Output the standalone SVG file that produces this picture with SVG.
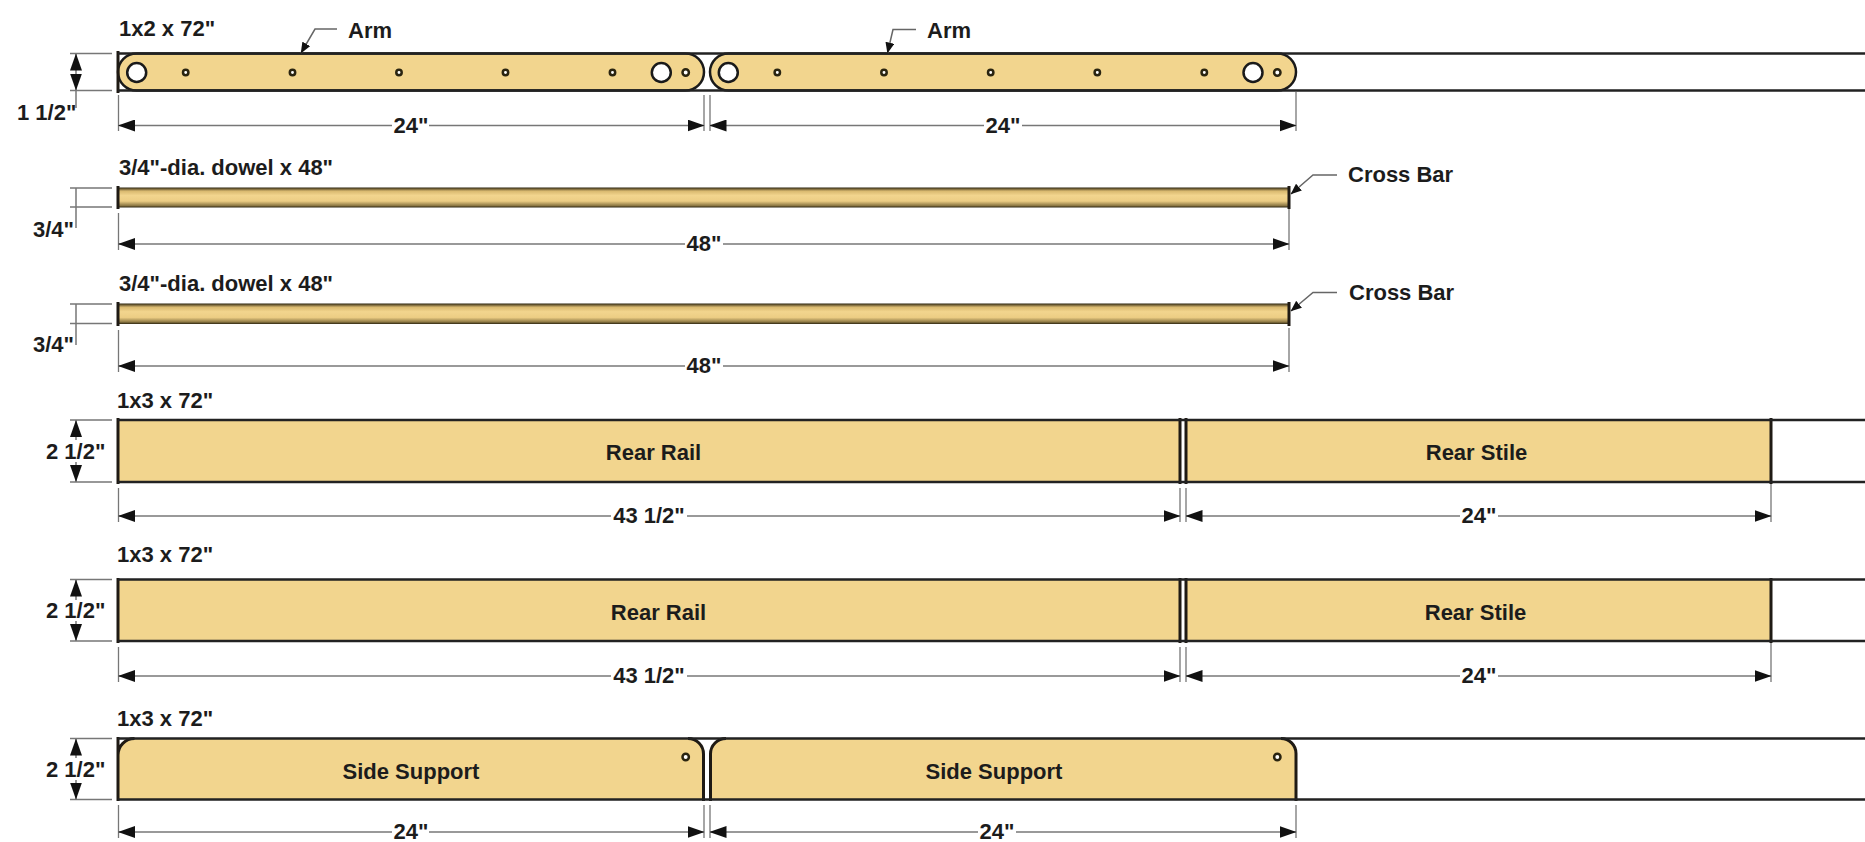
<svg xmlns="http://www.w3.org/2000/svg" width="1865" height="842" viewBox="0 0 1865 842">
<style>
text{font-family:"Liberation Sans",Arial,sans-serif;font-weight:bold;font-size:22px;fill:#1c1c1c}
.wood{fill:#f2d58e;stroke:#1a1a1a;stroke-width:2.5}
.flat{fill:#f2d58e;stroke:none}
.edge{stroke:#1f1a14;stroke-width:3;fill:none}
.stock{stroke:#222;stroke-width:2.5;fill:none}
.big{fill:#fff;stroke:#1a1a1a;stroke-width:2.5}
.small{fill:#fff;stroke:#2a2410;stroke-width:2.5}
.ext{stroke:#777;stroke-width:1.3;fill:none}
.dim{stroke:#777;stroke-width:1.5;fill:none}
.dima{stroke:#777;stroke-width:1.5;fill:none;marker-end:url(#a)}
.lead{stroke:#666;stroke-width:1.5;fill:none;marker-end:url(#l)}
</style>
<defs>
<marker id="a" markerUnits="userSpaceOnUse" markerWidth="17" markerHeight="12" refX="16.5" refY="6" orient="auto"><path d="M0 0L17 6L0 12Z" fill="#111"/></marker>
<marker id="l" markerUnits="userSpaceOnUse" markerWidth="11" markerHeight="9" refX="10.5" refY="4.5" orient="auto"><path d="M0 0L11 4.5L0 9Z" fill="#111"/></marker>
<linearGradient id="dowel" x1="0" y1="0" x2="0" y2="1"><stop offset="0" stop-color="#2d2510"/><stop offset=".18" stop-color="#d9b96f"/><stop offset=".4" stop-color="#f2d58e"/><stop offset=".68" stop-color="#eccd84"/><stop offset=".9" stop-color="#8f7a45"/><stop offset="1" stop-color="#2d2510"/></linearGradient>
</defs>
<rect width="1865" height="842" fill="#fff"/>

<g id="arm-1">
<rect class="wood" x="118" y="53.5" width="586" height="37" rx="18.5"/>
<path class="edge" d="M118 51V93"/>
<circle class="big" cx="136.700" cy="72.500" r="9.500"/>
<circle class="small" cx="185.700" cy="72.500" r="2.700"/><circle class="small" cx="292.500" cy="72.500" r="2.700"/><circle class="small" cx="399" cy="72.500" r="2.700"/><circle class="small" cx="505.500" cy="72.500" r="2.700"/><circle class="small" cx="612.500" cy="72.500" r="2.700"/>
<circle class="big" cx="661.300" cy="72.500" r="9.500"/><circle class="small" cx="685.700" cy="72.500" r="3.200"/>
<text x="348" y="37.500">Arm</text>
</g>
<g id="arm-2">
<rect class="wood" x="710" y="53.5" width="586" height="37" rx="18.5"/>
<circle class="big" cx="728.300" cy="72.500" r="9.500"/>
<circle class="small" cx="777.300" cy="72.500" r="2.700"/><circle class="small" cx="884" cy="72.500" r="2.700"/><circle class="small" cx="990.700" cy="72.500" r="2.700"/><circle class="small" cx="1097.300" cy="72.500" r="2.700"/><circle class="small" cx="1204.300" cy="72.500" r="2.700"/>
<circle class="big" cx="1253" cy="72.500" r="9.500"/><circle class="small" cx="1277.300" cy="72.500" r="3.200"/>
<text x="927" y="37.500">Arm</text>
</g>

<g id="dowel-1">
<rect x="118" y="187.500" width="1171" height="20" fill="url(#dowel)"/>
<path class="edge" d="M118 186V209M1289 186V209"/>
</g>
<g id="dowel-2">
<rect x="118" y="303.500" width="1171" height="20.500" fill="url(#dowel)"/>
<path class="edge" d="M118 302V326M1289 302V326"/>
</g>

<g id="rear-rail-1">
<rect class="flat" x="118" y="420" width="1062" height="62"/>
<path class="edge" d="M118 418V484M1180 418V484"/>
<text x="653.500" y="460" text-anchor="middle">Rear Rail</text>
</g>
<g id="rear-stile-1">
<rect class="flat" x="1186" y="420" width="585" height="62"/>
<path class="edge" d="M1186 418V484M1771 418V484"/>
<text x="1476.500" y="460" text-anchor="middle">Rear Stile</text>
</g>
<g id="rear-rail-2">
<rect class="flat" x="118" y="579.500" width="1062" height="61.500"/>
<path class="edge" d="M118 578V643M1180 578V643"/>
<text x="658.500" y="620" text-anchor="middle">Rear Rail</text>
</g>
<g id="rear-stile-2">
<rect class="flat" x="1186" y="579.500" width="585" height="61.500"/>
<path class="edge" d="M1186 578V643M1771 578V643"/>
<text x="1475.500" y="620" text-anchor="middle">Rear Stile</text>
</g>
<g id="side-support-1">
<path class="flat" d="M118 799.500V755A16.500 16.500 0 0 1 134.500 738.500H688A15.500 15.500 0 0 1 703.500 754V799.500Z"/>
<path class="edge" d="M118 737V801M118 755A16.500 16.500 0 0 1 134.500 738.500M688 738.500A15.500 15.500 0 0 1 703.500 754V801"/>
<circle class="small" cx="685.700" cy="757" r="3.200"/>
<text x="411" y="778.500" text-anchor="middle">Side Support</text>
</g>
<g id="side-support-2">
<path class="flat" d="M710.500 799.500V754A15.500 15.500 0 0 1 726 738.500H1281A15 15 0 0 1 1296 753.500V799.500Z"/>
<path class="edge" d="M710.500 801V754A15.500 15.500 0 0 1 726 738.500M1281 738.500A15 15 0 0 1 1296 753.500V801"/>
<circle class="small" cx="1277.300" cy="757" r="3.200"/>
<text x="994" y="778.500" text-anchor="middle">Side Support</text>
</g>

<g id="stock-lines">
<path class="stock" d="M118 53.500H1865M118 90.500H1865"/>
<path class="stock" d="M118 420H1865M118 482H1865"/>
<path class="stock" d="M118 579.500H1865M118 641H1865"/>
<path class="stock" d="M118 738.500H1865M118 799.500H1865"/>
</g>

<g id="stock-labels">
<text x="119" y="36">1x2 x 72"</text>
<text x="119" y="174.500">3/4"-dia. dowel x 48"</text>
<text x="119" y="290.500">3/4"-dia. dowel x 48"</text>
<text x="117" y="408">1x3 x 72"</text>
<text x="117" y="562">1x3 x 72"</text>
<text x="117" y="726">1x3 x 72"</text>
<text x="1348" y="182">Cross Bar</text>
<text x="1349" y="300">Cross Bar</text>
</g>

<g id="dimension-labels">
<text x="17" y="120">1 1/2"</text>
<text x="33" y="236.500">3/4"</text>
<text x="33" y="352">3/4"</text>
<text x="46" y="459">2 1/2"</text>
<text x="46" y="618">2 1/2"</text>
<text x="46" y="777">2 1/2"</text>
<text x="411" y="133" text-anchor="middle">24"</text>
<text x="1003" y="133" text-anchor="middle">24"</text>
<text x="704" y="251" text-anchor="middle">48"</text>
<text x="704" y="373" text-anchor="middle">48"</text>
<text x="649" y="523" text-anchor="middle">43 1/2"</text>
<text x="1479" y="523" text-anchor="middle">24"</text>
<text x="649" y="683" text-anchor="middle">43 1/2"</text>
<text x="1479" y="683" text-anchor="middle">24"</text>
<text x="411" y="839" text-anchor="middle">24"</text>
<text x="997" y="839" text-anchor="middle">24"</text>
</g>

<g id="connectors">
<path class="lead" d="M337 29H315L301 53"/>
<path class="lead" d="M916 29.500H893L887.500 53"/>
<path class="lead" d="M1337 175H1313L1291 194"/>
<path class="lead" d="M1337 292.500H1313L1291 311"/>

<path class="ext" d="M70 53.500H112M70 90.500H112M70 188H112M70 207H112M70 304H112M70 323.500H112M70 420H112M70 482H112M70 579.500H112M70 641H112M70 738.500H112M70 799.500H112"/>
<path class="dima" d="M76 72V54"/><path class="dima" d="M76 72V90"/>
<path class="dim" d="M76 90V108M76 188V228M76 304V345"/>
<path class="dima" d="M76 440V420.500"/><path class="dima" d="M76 462V481.500"/>
<path class="dima" d="M76 600V580"/><path class="dima" d="M76 621V640.500"/>
<path class="dima" d="M76 758V739"/><path class="dima" d="M76 780V799"/>

<path class="ext" d="M118.500 95V131M704 95V131M710 95V131M1296 92V131"/>
<path class="dima" d="M392 125.500H118.500"/><path class="dima" d="M429 125.500H704"/>
<path class="dima" d="M984 125.500H710"/><path class="dima" d="M1022 125.500H1296"/>

<path class="ext" d="M118.500 213V250M1289 209V250"/>
<path class="dima" d="M685 244H118.500"/><path class="dima" d="M723 244H1289"/>
<path class="ext" d="M118.500 330V372M1289 328V372"/>
<path class="dima" d="M685 366H118.500"/><path class="dima" d="M723 366H1289"/>

<path class="ext" d="M118.500 488V522M1180 488V522M1186 488V522M1771 484V522"/>
<path class="dima" d="M611 516H118.500"/><path class="dima" d="M687 516H1180"/>
<path class="dima" d="M1460 516H1186"/><path class="dima" d="M1498 516H1771"/>
<path class="ext" d="M118.500 647V682M1180 647V682M1186 647V682M1771 643V682"/>
<path class="dima" d="M611 676H118.500"/><path class="dima" d="M687 676H1180"/>
<path class="dima" d="M1460 676H1186"/><path class="dima" d="M1498 676H1771"/>

<path class="ext" d="M118.500 805V838M704 805V838M710 805V838M1296 805V838"/>
<path class="dima" d="M392 832H118.500"/><path class="dima" d="M429 832H704"/>
<path class="dima" d="M978 832H710"/><path class="dima" d="M1016 832H1296"/>
</g>
</svg>
